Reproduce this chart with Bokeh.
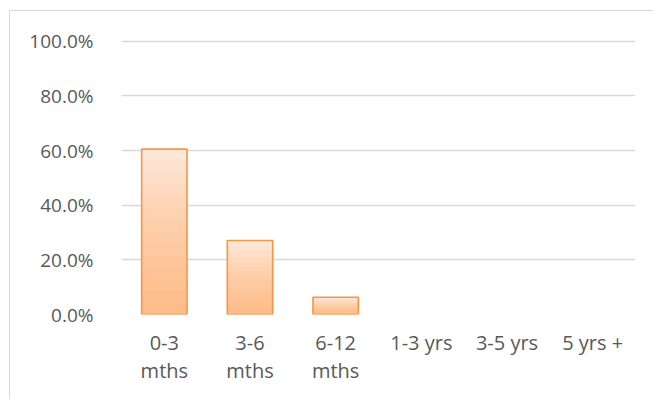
from bokeh.plotting import figure
from bokeh.models import (ColumnDataSource, FixedTicker, NumeralTickFormatter, Range1d)
from bokeh.embed import file_html
from bokeh.resources import INLINE

categories = ["0-3 mths", "3-6 mths", "6-12 mths", "1-3 yrs", "3-5 yrs", "5 yrs +"]
tick_labels = ["0-3\nmths", "3-6\nmths", "6-12\nmths", "1-3 yrs", "3-5 yrs", "5 yrs +"]
values = [0.605, 0.271, 0.063, 0.0, 0.0, 0.0]
y_ticks = [0.0, 0.2, 0.4, 0.6, 0.8, 1.0]

FONT = "Open Sans"
LABEL_COLOR = "#595959"
GRID_COLOR = "#d9d9d9"

xs = list(range(len(categories)))

p = figure(
    x_range=Range1d(-0.5, len(categories) - 0.5),
    y_range=Range1d(0, 1.01),
    width=644, height=389,
    output_backend="svg", toolbar_location=None,
    min_border_left=111, min_border_right=19,
    min_border_top=27, min_border_bottom=86,
    margin=(10, 0, 0, 9),
)
p.styles = {"border-left": "1px solid #d9d9d9", "border-top": "1px solid #d9d9d9"}
p.outline_line_color = None
p.background_fill_color = "white"
p.border_fill_color = "white"

# gradient-like fill: stacked translucent layers, darker toward the bottom
N = 14
base_src = ColumnDataSource(dict(x=xs, top=values,
                                 la=[1.0 if v > 0 else 0.0 for v in values]))
p.vbar(x="x", top="top", width=0.53, source=base_src,
       fill_color="#fde8d8", line_color=None)
for k in range(1, N):
    frac = k / N
    src = ColumnDataSource(dict(x=xs, top=[v * frac for v in values]))
    p.vbar(x="x", top="top", width=0.53, source=src,
           fill_color="#f9a35a", fill_alpha=0.068, line_color=None)
p.vbar(x="x", top="top", width=0.53, source=base_src,
       fill_color=None, line_color="#f79646", line_width=1.6, line_alpha="la")

p.yaxis.ticker = FixedTicker(ticks=y_ticks)
p.yaxis.formatter = NumeralTickFormatter(format="0.0%")
p.ygrid.ticker = FixedTicker(ticks=y_ticks)
p.ygrid.grid_line_color = GRID_COLOR
p.ygrid.grid_line_width = 1.3
p.xgrid.grid_line_color = None

p.xaxis.ticker = FixedTicker(ticks=xs)
p.xaxis.major_label_overrides = {i: lab for i, lab in zip(xs, tick_labels)}

for ax in (p.xaxis[0], p.yaxis[0]):
    ax.axis_line_color = None
    ax.major_tick_line_color = None
    ax.minor_tick_line_color = None
    ax.major_label_text_font = FONT
    ax.major_label_text_color = LABEL_COLOR

p.yaxis.major_label_text_font_size = "19px"
p.xaxis.major_label_text_font_size = "20px"
p.xaxis.major_label_text_line_height = 1.05

p.yaxis.major_label_standoff = 22
p.xaxis.major_label_standoff = 8

open("out.html", "w").write(file_html(p, INLINE))
